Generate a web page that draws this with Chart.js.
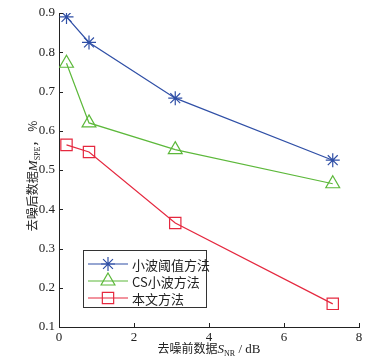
<!DOCTYPE html>
<html>
<head>
<meta charset="utf-8">
<script src="https://cdn.jsdelivr.net/npm/chart.js@4.4.0/dist/chart.umd.min.js"></script>
<style>
  html, body { margin: 0; padding: 0; background: #fff; }
  #wrap { width: 379px; height: 362px; }
</style>
</head>
<body>
<div id="wrap"><canvas id="chart" width="379" height="362"></canvas></div>
<script>
"use strict";

// data
const snrValues = [0.2, 0.8, 3.1, 7.3];
const waveletThreshold = [0.89, 0.825, 0.683, 0.525];
const csWavelet = [0.772, 0.62, 0.552, 0.465];
const proposedMethod = [0.564, 0.546, 0.365, 0.159];
const seriesNames = ['小波阈值方法', 'CS小波方法', '本文方法'];
const xTicks = [0, 2, 4, 6, 8];
const yTicks = [0.1, 0.2, 0.3, 0.4, 0.5, 0.6, 0.7, 0.8, 0.9];

const serif = '"Liberation Serif", "DejaVu Serif", serif';
const cjk = '"Noto Sans CJK SC", sans-serif';

function toPoints(ys) {
    return snrValues.map((x, i) => ({ x: x, y: ys[i] }));
}

function makeSet(label, ys, color, style, radius) {
    return {
        label: label,
        data: toPoints(ys),
        borderColor: color,
        backgroundColor: 'rgba(0,0,0,0)',
        borderWidth: 1.2,
        pointStyle: style,
        pointRadius: radius,
        pointBorderWidth: 1.2,
        pointBorderColor: color,
        pointBackgroundColor: 'rgba(0,0,0,0)',
        tension: 0
    };
}

// write a run of text pieces (some subscripted) centred on cx
function drawParts(ctx, parts, cx, y) {
    let w = 0;
    parts.forEach(p => { ctx.font = p.f; w += ctx.measureText(p.t).width; });
    let x = cx - w / 2;
    parts.forEach(p => {
        ctx.font = p.f;
        ctx.fillText(p.t, x, y + p.dy);
        x += ctx.measureText(p.t).width;
    });
}

// inward ticks, axis titles with subscripts, and the boxed legend
const decorPlugin = {
    id: 'decor',
    afterDraw(chart) {
        const ctx = chart.ctx;
        const area = chart.chartArea;
        const xs = chart.scales.x;
        const ys = chart.scales.y;
        ctx.save();

        ctx.strokeStyle = '#222';
        ctx.lineWidth = 1;
        ctx.beginPath();
        xTicks.forEach(v => {
            const px = Math.round(xs.getPixelForValue(v)) + 0.5;
            ctx.moveTo(px, area.bottom);
            ctx.lineTo(px, area.bottom - 4);
        });
        yTicks.forEach(v => {
            const py = Math.round(ys.getPixelForValue(v)) + 0.5;
            ctx.moveTo(area.left, py);
            ctx.lineTo(area.left + 4, py);
        });
        ctx.stroke();

        ctx.fillStyle = '#222';
        ctx.textBaseline = 'alphabetic';
        drawParts(ctx, [
            { t: '去噪前数据', f: '12px ' + cjk, dy: 0 },
            { t: 'S', f: 'italic 13px ' + serif, dy: 0 },
            { t: 'NR', f: '8px ' + serif, dy: 3 },
            { t: ' / dB', f: '13px ' + serif, dy: 0 }
        ], (area.left + area.right) / 2, 353);

        ctx.translate(37, 176);
        ctx.rotate(-Math.PI / 2);
        drawParts(ctx, [
            { t: '去噪后数据', f: '12px ' + cjk, dy: 0 },
            { t: 'M', f: 'italic 13px ' + serif, dy: 0 },
            { t: 'SPE', f: '8px ' + serif, dy: 3 },
            { t: '， %', f: '12px ' + cjk, dy: 0 }
        ], 0, 0);
        ctx.setTransform(1, 0, 0, 1, 0, 0);

        // legend box
        const bx = 83, by = 250, bw = 123, bh = 57;
        ctx.fillStyle = '#fff';
        ctx.fillRect(bx, by, bw, bh);
        ctx.strokeStyle = '#333';
        ctx.lineWidth = 1;
        ctx.strokeRect(bx + 0.5, by + 0.5, bw, bh);
        const rows = [264, 281, 298];
        chart.data.datasets.forEach((ds, i) => {
            const ry = rows[i];
            ctx.strokeStyle = ds.borderColor;
            ctx.fillStyle = 'rgba(0,0,0,0)';
            ctx.lineWidth = ds.borderWidth;
            ctx.beginPath();
            ctx.moveTo(88, ry);
            ctx.lineTo(128, ry);
            ctx.stroke();
            Chart.helpers.drawPoint(ctx, {
                pointStyle: ds.pointStyle,
                radius: ds.pointRadius,
                rotation: 0,
                borderWidth: ds.pointBorderWidth
            }, 108, ry);
            ctx.fillStyle = '#222';
            ctx.font = '13px ' + cjk;
            ctx.textBaseline = 'middle';
            ctx.fillText(ds.label, 132, ry + 1);
        });
        ctx.restore();
    }
};

new Chart(document.getElementById('chart').getContext('2d'), {
    type: 'line',
    data: {
        datasets: [
            makeSet(seriesNames[0], waveletThreshold, '#2f4fa6', 'star', 7),
            makeSet(seriesNames[1], csWavelet, '#5cb83a', 'triangle', 8),
            makeSet(seriesNames[2], proposedMethod, '#e5283f', 'rect', 8)
        ]
    },
    options: {
        responsive: false,
        animation: false,
        layout: { padding: { top: 13, right: 20, left: 0, bottom: 0 } },
        plugins: {
            legend: { display: false },
            tooltip: { enabled: false }
        },
        scales: {
            x: {
                type: 'linear',
                min: 0,
                max: 8,
                afterBuildTicks: s => { s.ticks = xTicks.map(v => ({ value: v })); },
                afterFit: s => { s.height = 35; },
                grid: { drawOnChartArea: false, drawTicks: false },
                border: { display: true, color: '#222', width: 1 },
                ticks: {
                    color: '#222',
                    font: { family: serif, size: 13 },
                    padding: 3,
                    maxRotation: 0
                }
            },
            y: {
                type: 'linear',
                min: 0.1,
                max: 0.9,
                afterBuildTicks: s => { s.ticks = yTicks.map(v => ({ value: v })); },
                afterFit: s => { s.width = 59; },
                grid: { drawOnChartArea: false, drawTicks: false },
                border: { display: true, color: '#222', width: 1 },
                ticks: {
                    color: '#222',
                    font: { family: serif, size: 13 },
                    padding: 4,
                    callback: v => v.toFixed(1)
                }
            }
        }
    },
    plugins: [decorPlugin]
});
</script>
</body>
</html>
